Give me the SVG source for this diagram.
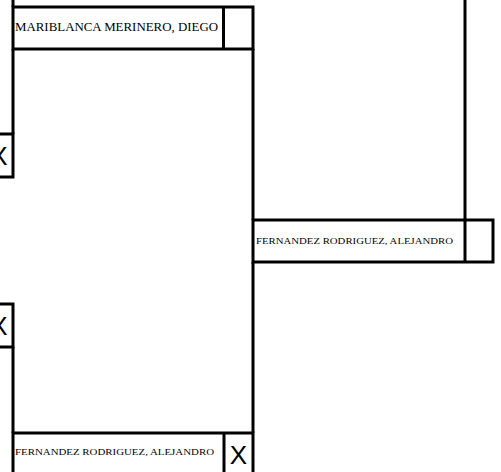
<svg xmlns="http://www.w3.org/2000/svg" width="501" height="472" viewBox="0 0 501 472">
<style>
.box{fill:#fff;stroke:#000;stroke-width:3}
.ln{stroke:#000;stroke-width:3;fill:none}
.name{font-family:"Liberation Serif","DejaVu Serif",serif;fill:#000}
.x{font-family:"Liberation Sans",Arial,sans-serif;font-size:26px;fill:#000;text-anchor:middle}
</style>
<rect width="501" height="472" fill="#fff"/>
<g id="connectors">
<line class="ln" x1="13" y1="0" x2="13" y2="7"/>
<line class="ln" x1="13" y1="49" x2="13" y2="134"/>
<line class="ln" x1="13" y1="347" x2="13" y2="433"/>
<line class="ln" x1="253" y1="49" x2="253" y2="220"/>
<line class="ln" x1="253" y1="262" x2="253" y2="433"/>
<line class="ln" x1="465" y1="0" x2="465" y2="220"/>
</g>
<g id="node-left-1">
<rect class="box" x="-230" y="134" width="243" height="43"/>
<line class="ln" x1="-15" y1="134" x2="-15" y2="177"/>
<text class="x" x="-1" y="165">X</text>
</g>
<g id="node-left-2">
<rect class="box" x="-230" y="304" width="243" height="43"/>
<line class="ln" x1="-15" y1="304" x2="-15" y2="347"/>
<text class="x" x="-1" y="335">X</text>
</g>
<g id="node-top">
<rect class="box" x="13" y="7" width="240" height="42"/>
<line class="ln" x1="223.5" y1="7" x2="223.5" y2="49"/>
<text class="name" x="15" y="31" font-size="11.5" textLength="203" lengthAdjust="spacingAndGlyphs">MARIBLANCA MERINERO, DIEGO</text>
</g>
<g id="node-middle">
<rect class="box" x="253" y="220" width="240" height="42"/>
<line class="ln" x1="465" y1="220" x2="465" y2="262"/>
<text class="name" x="256" y="244" font-size="9" textLength="197" lengthAdjust="spacingAndGlyphs">FERNANDEZ RODRIGUEZ, ALEJANDRO</text>
</g>
<g id="node-bottom">
<rect class="box" x="13" y="433" width="240" height="42"/>
<line class="ln" x1="224" y1="433" x2="224" y2="475"/>
<text class="name" x="15" y="455" font-size="9" textLength="199" lengthAdjust="spacingAndGlyphs">FERNANDEZ RODRIGUEZ, ALEJANDRO</text>
<text class="x" x="238.5" y="463.5">X</text>
</g>
</svg>
